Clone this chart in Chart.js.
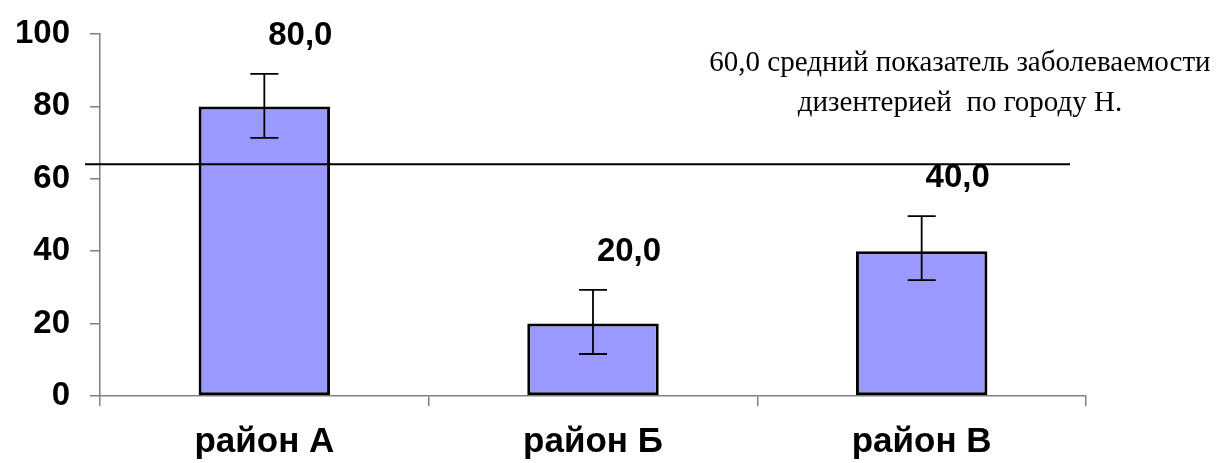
<!DOCTYPE html>
<html>
<head>
<meta charset="utf-8">
<script src="https://cdn.jsdelivr.net/npm/chart.js@4.4.1/dist/chart.umd.min.js"></script>
<style>
  html, body { margin: 0; padding: 0; background: #fff; }
  #wrap { width: 1232px; height: 463px; }
</style>
</head>
<body>
<div id="wrap"><canvas id="chart"></canvas></div>
<script>
// data
const districts = ['район А', 'район Б', 'район В'];
const incidence = [80, 20, 40];
const errHigh = [89, 29.3, 49.7];
const errLow = [71.3, 11.6, 32];
const valueLabels = ['80,0', '20,0', '40,0'];
const yTicks = [0, 20, 40, 60, 80, 100];
const meanLevel = 64;
const meanNote = ['60,0 средний показатель заболеваемости', 'дизентерией  по городу Н.'];

const boldFont = '"Liberation Sans", Arial, sans-serif';

// error bars, value labels, city mean line and its note
const extras = {
  id: 'extras',
  afterDatasetsDraw(chart) {
    const ctx = chart.ctx;
    const y = chart.scales.y;
    const area = chart.chartArea;
    const bars = chart.getDatasetMeta(0).data;

    ctx.save();
    ctx.strokeStyle = '#000';
    ctx.lineWidth = 1.8;
    bars.forEach((bar, i) => {
      const top = y.getPixelForValue(errHigh[i]);
      const bottom = y.getPixelForValue(errLow[i]);
      ctx.beginPath();
      ctx.moveTo(bar.x, top);
      ctx.lineTo(bar.x, bottom);
      ctx.moveTo(bar.x - 14, top);
      ctx.lineTo(bar.x + 14, top);
      ctx.moveTo(bar.x - 14, bottom);
      ctx.lineTo(bar.x + 14, bottom);
      ctx.stroke();
    });

    // mean line
    const my = y.getPixelForValue(meanLevel);
    ctx.lineWidth = 2;
    ctx.beginPath();
    ctx.moveTo(area.left - 15, my);
    ctx.lineTo(area.right - 16, my);
    ctx.stroke();

    ctx.fillStyle = '#000';
    ctx.textAlign = 'center';
    ctx.textBaseline = 'middle';
    ctx.font = 'bold 33px ' + boldFont;
    bars.forEach((bar, i) => {
      ctx.fillText(valueLabels[i], bar.x + 36, y.getPixelForValue(errHigh[i]) - 38);
    });

    ctx.font = '29px "Liberation Serif", "Times New Roman", serif';
    ctx.fillText(meanNote[0], 960, 63);
    ctx.fillText(meanNote[1], 960, 103);
    ctx.restore();
  }
};

new Chart(document.getElementById('chart'), {
  type: 'bar',
  data: {
    labels: districts,
    datasets: [{
      data: incidence,
      backgroundColor: '#9999ff',
      borderColor: '#000',
      borderWidth: 3,
      borderSkipped: false,
      categoryPercentage: 1,
      barPercentage: 0.4
    }]
  },
  options: {
    responsive: true,
    maintainAspectRatio: false,
    animation: false,
    devicePixelRatio: 1,
    layout: {
      padding: { left: 0, right: 146, top: 34, bottom: 0 }
    },
    plugins: {
      legend: { display: false },
      tooltip: { enabled: false }
    },
    scales: {
      x: {
        grid: {
          offset: true,
          drawOnChartArea: false,
          drawTicks: true,
          tickLength: 10,
          color: '#808080',
          lineWidth: 1.5
        },
        border: { display: true, color: '#808080', width: 1.5 },
        ticks: {
          color: '#000',
          padding: 15,
          font: { family: boldFont, size: 35, weight: 'bold' }
        },
        afterFit(scale) { scale.height = 67; }
      },
      y: {
        min: 0,
        max: 100,
        afterBuildTicks(scale) {
          scale.ticks = yTicks.map(v => ({ value: v }));
        },
        grid: {
          drawOnChartArea: false,
          drawTicks: true,
          tickLength: 10,
          color: '#808080',
          lineWidth: 1.5
        },
        border: { display: true, color: '#808080', width: 1.5 },
        ticks: {
          color: '#000',
          padding: 20,
          font: { family: boldFont, size: 33, weight: 'bold' }
        },
        afterFit(scale) {
          scale.width = 100;
          scale.paddingTop = 0;
          scale.paddingBottom = 0;
        }
      }
    }
  },
  plugins: [extras]
});
</script>
</body>
</html>
